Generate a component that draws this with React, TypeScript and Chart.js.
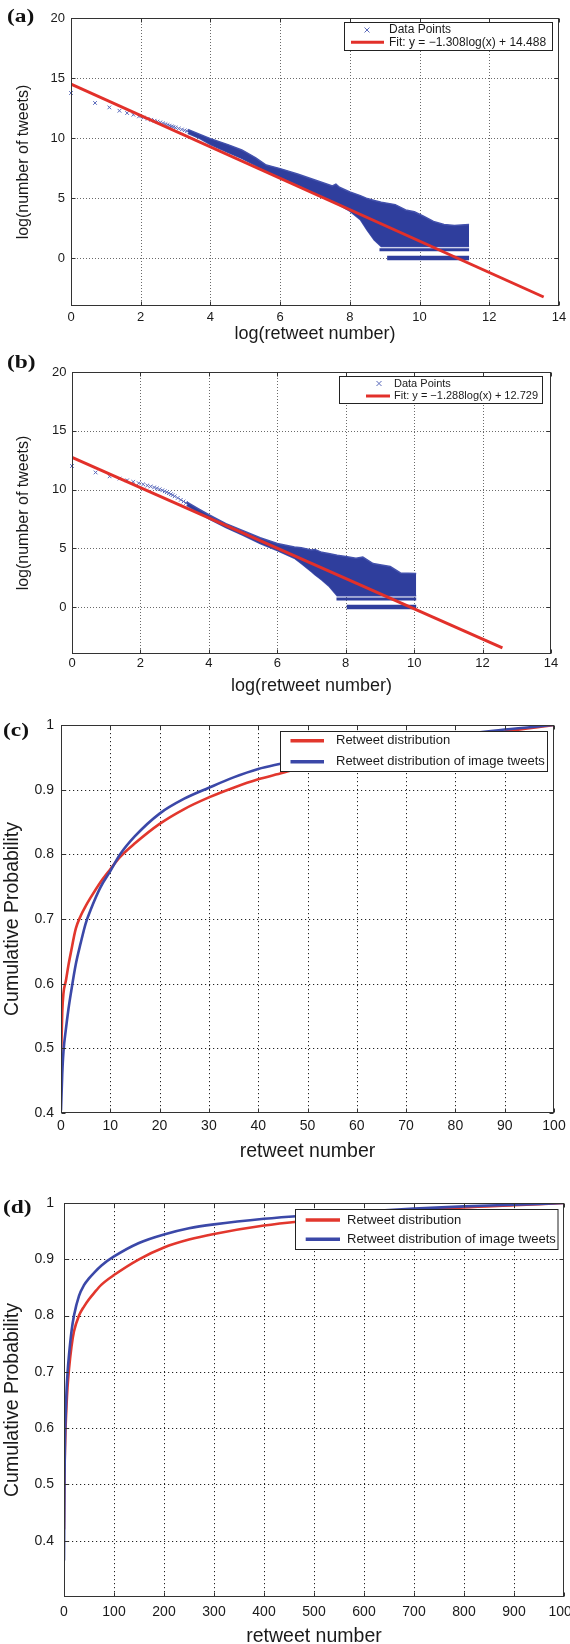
import React, { useEffect, useRef } from 'react';
import { Chart, registerables } from 'chart.js';

Chart.register(...registerables);

const SANS = "'Liberation Sans', Arial, Helvetica, sans-serif";
const SERIF = "'Liberation Serif', 'Times New Roman', Times, serif";

// ---------------- (a) ----------------
const aXTicks = [0, 2, 4, 6, 8, 10, 12, 14];
const aYTicks = [0, 5, 10, 15, 20];
const aSparseX = [0, 0.69, 1.1, 1.39, 1.61, 1.79, 1.95, 2.08, 2.2, 2.3, 2.4, 2.48, 2.56, 2.64, 2.71, 2.77, 2.83, 2.89, 2.94, 3.0, 3.09, 3.18, 3.26, 3.33];
const aSparseY = [13.75, 12.92, 12.55, 12.27, 12.08, 11.94, 11.8, 11.7, 11.6, 11.52, 11.44, 11.37, 11.3, 11.22, 11.15, 11.09, 11.03, 10.97, 10.92, 10.87, 10.79, 10.71, 10.64, 10.57];
const aCloudX = [3.35, 3.7, 4.0, 4.5, 4.9, 5.0, 5.3, 5.6, 6.0, 6.5, 7.0, 7.5, 7.6, 7.7, 8.0, 8.3, 8.5, 8.7, 8.9, 9.3, 9.6, 9.85, 10.1, 10.4, 10.7, 11.0, 11.2, 11.42];
const aUpperY = [10.72, 10.3, 9.95, 9.45, 9.0, 8.85, 8.35, 7.75, 7.45, 7.0, 6.5, 6.0, 6.15, 5.9, 5.5, 5.2, 4.95, 4.8, 4.65, 4.45, 4.0, 3.85, 3.5, 3.05, 2.8, 2.7, 2.75, 2.8];
const aLowerY = [10.4, 9.95, 9.45, 8.8, 8.3, 8.15, 7.7, 7.2, 6.75, 6.1, 5.4, 4.7, 4.55, 4.4, 3.9, 3.2, 2.3, 1.5, 0.95, 0.95, 0.95, 0.95, 0.95, 0.95, 0.95, 0.95, 0.95, 0.95];
const aBand1X = [8.85, 11.42];
const aBand1Y = [0.69, 0.69];
const aBand0X = [9.07, 11.42];
const aBand0Y = [0, 0];
const aFitX = [0, 13.56];
const aFitY = [14.488, -3.25];

// ---------------- (b) ----------------
const bXTicks = [0, 2, 4, 6, 8, 10, 12, 14];
const bYTicks = [0, 5, 10, 15, 20];
const bSparseX = [0, 0.69, 1.1, 1.39, 1.61, 1.79, 1.95, 2.08, 2.2, 2.3, 2.4, 2.48, 2.56, 2.64, 2.71, 2.77, 2.83, 2.89, 2.94, 3.0, 3.09, 3.18, 3.26, 3.33];
const bSparseY = [12.0, 11.45, 11.12, 10.93, 10.78, 10.65, 10.54, 10.44, 10.34, 10.26, 10.18, 10.1, 10.02, 9.93, 9.85, 9.77, 9.69, 9.6, 9.52, 9.42, 9.28, 9.12, 8.98, 8.85];
const bCloudX = [3.35, 3.7, 4.0, 4.5, 5.0, 5.5, 6.0, 6.5, 6.7, 7.0, 7.1, 7.3, 7.5, 7.75, 8.0, 8.3, 8.5, 8.8, 9.0, 9.3, 9.6, 10.06];
const bUpperY = [8.95, 8.35, 7.85, 7.1, 6.5, 5.9, 5.4, 5.1, 5.05, 4.85, 4.9, 4.65, 4.55, 4.4, 4.3, 4.15, 4.25, 3.7, 3.6, 3.45, 2.9, 2.85];
const bLowerY = [8.65, 8.05, 7.5, 6.75, 6.1, 5.4, 4.8, 4.15, 3.7, 3.0, 2.75, 2.3, 1.8, 0.95, 0.95, 0.95, 0.95, 0.95, 0.95, 0.95, 0.95, 0.95];
const bBand1X = [7.73, 10.06];
const bBand1Y = [0.69, 0.69];
const bBand0X = [8.03, 10.06];
const bBand0Y = [0, 0];
const bFitX = [0, 12.58];
const bFitY = [12.729, -3.47];

// ---------------- (c) ----------------
const cXTicks = [0, 10, 20, 30, 40, 50, 60, 70, 80, 90, 100];
const cYTicks = [0.4, 0.5, 0.6, 0.7, 0.8, 0.9, 1];
const cX = [0, 0.25, 0.5, 1, 1.5, 2, 3, 4, 5, 6, 8, 10, 12, 15, 20, 25, 30, 35, 40, 45, 50, 60, 70, 80, 90, 100];
const cRed = [0.48, 0.555, 0.585, 0.605, 0.628, 0.648, 0.685, 0.705, 0.72, 0.733, 0.757, 0.777, 0.796, 0.817, 0.847, 0.870, 0.888, 0.903, 0.916, 0.926, 0.937, 0.953, 0.966, 0.978, 0.990, 1.0];
const cBlue = [0.404, 0.46, 0.495, 0.53, 0.56, 0.585, 0.63, 0.663, 0.693, 0.714, 0.749, 0.774, 0.800, 0.828, 0.863, 0.886, 0.903, 0.919, 0.932, 0.941, 0.950, 0.963, 0.975, 0.984, 0.993, 1.0];

// ---------------- (d) ----------------
const dXTicks = [0, 100, 200, 300, 400, 500, 600, 700, 800, 900, 1000];
const dYTicks = [0.4, 0.5, 0.6, 0.7, 0.8, 0.9, 1];
const dX = [0, 1, 2, 3, 5, 7, 10, 15, 20, 30, 40, 50, 60, 75, 100, 150, 200, 250, 300, 400, 500, 600, 700, 800, 900, 1000];
const dRed = [0.42, 0.52, 0.565, 0.597, 0.64, 0.672, 0.705, 0.745, 0.772, 0.80, 0.816, 0.829, 0.840, 0.855, 0.872, 0.900, 0.921, 0.935, 0.945, 0.960, 0.970, 0.979, 0.986, 0.992, 0.996, 1.0];
const dBlue = [0.365, 0.51, 0.58, 0.615, 0.665, 0.697, 0.73, 0.772, 0.80, 0.835, 0.854, 0.866, 0.876, 0.889, 0.905, 0.929, 0.944, 0.955, 0.962, 0.972, 0.979, 0.985, 0.990, 0.994, 0.997, 1.0];

const BLUE_CLOUD = '#2f3e9d';
const BLUE_EDGE = '#4452ad';
const BLUE_MARK = '#5a6abb';
const RED = '#e2302a';
const BLUE_LINE = '#3b48a8';
const RED_LINE = '#e2372d';
const TEXT = '#1a1a1a';

const CW = 620;

const pts = (xs: number[], ys: number[]) => xs.map((x, i) => ({ x, y: ys[i] }));

const framePlugin: any = {
  id: 'frame',
  beforeDatasetsDraw(chart: any, _a: any, opts: any) {
    const { ctx, chartArea } = chart;
    const { left, right, top, bottom } = chartArea;
    const xs = chart.scales.x;
    const ys = chart.scales.y;
    ctx.save();
    ctx.strokeStyle = opts.gridColor;
    ctx.lineWidth = 1;
    ctx.setLineDash(opts.dash);
    ctx.beginPath();
    for (const t of xs.ticks) {
      const p = Math.round(xs.getPixelForValue(t.value)) + 0.5;
      if (p <= left + 1.5 || p >= right - 1.5) continue;
      ctx.moveTo(p, top);
      ctx.lineTo(p, bottom);
    }
    for (const t of ys.ticks) {
      const p = Math.round(ys.getPixelForValue(t.value)) + 0.5;
      if (p <= top + 1.5 || p >= bottom - 1.5) continue;
      ctx.moveTo(left, p);
      ctx.lineTo(right, p);
    }
    ctx.stroke();
    ctx.restore();
  },
  afterDatasetsDraw(chart: any, _a: any, opts: any) {
    const { ctx, chartArea } = chart;
    const { left, right, top, bottom } = chartArea;
    const xs = chart.scales.x;
    const ys = chart.scales.y;
    ctx.save();
    ctx.setLineDash([]);
    ctx.strokeStyle = opts.boxColor;
    ctx.lineWidth = 1;
    const L = Math.round(left) + 0.5;
    const R = Math.round(right) - 0.5;
    const T = Math.round(top) + 0.5;
    const B = Math.round(bottom) - 0.5;
    ctx.strokeRect(L, T, R - L, B - T);
    const tl = opts.tickLen;
    ctx.beginPath();
    for (const t of xs.ticks) {
      const p = Math.round(xs.getPixelForValue(t.value)) + 0.5;
      ctx.moveTo(p, B);
      ctx.lineTo(p, B - tl);
      ctx.moveTo(p, T);
      ctx.lineTo(p, T + tl);
    }
    for (const t of ys.ticks) {
      const p = Math.round(ys.getPixelForValue(t.value)) + 0.5;
      ctx.moveTo(L, p);
      ctx.lineTo(L + tl, p);
      ctx.moveTo(R, p);
      ctx.lineTo(R - tl, p);
    }
    ctx.stroke();

    const lg = opts.legend;
    if (lg) {
      const [x1, y1, x2, y2] = lg.box;
      ctx.fillStyle = '#ffffff';
      ctx.fillRect(x1, y1, x2 - x1, y2 - y1);
      ctx.strokeStyle = '#222';
      ctx.lineWidth = 1;
      ctx.strokeRect(x1 + 0.5, y1 + 0.5, x2 - x1 - 1, y2 - y1 - 1);
      ctx.font = `${lg.size}px ${SANS}`;
      ctx.textBaseline = 'middle';
      ctx.textAlign = 'left';
      for (const it of lg.items) {
        const ds = chart.data.datasets[it.ds];
        ctx.strokeStyle = ds.borderColor;
        if (it.kind === 'line') {
          ctx.lineWidth = it.w;
          ctx.beginPath();
          ctx.moveTo(it.sx1, it.y);
          ctx.lineTo(it.sx2, it.y);
          ctx.stroke();
        } else {
          const r = it.r;
          ctx.lineWidth = 1;
          ctx.beginPath();
          ctx.moveTo(it.sx - r, it.y - r);
          ctx.lineTo(it.sx + r, it.y + r);
          ctx.moveTo(it.sx - r, it.y + r);
          ctx.lineTo(it.sx + r, it.y - r);
          ctx.stroke();
        }
        ctx.fillStyle = TEXT;
        ctx.fillText(ds.label, it.tx, it.y);
      }
    }
    ctx.restore();
  },
};

function makeConfig(s: any) {
  const fmt = (v: any) => String(Math.round(Number(v) * 1000) / 1000);
  return {
    type: 'scatter',
    data: { datasets: s.datasets },
    options: {
      animation: false,
      responsive: false,
      devicePixelRatio: 1,
      layout: { padding: { left: 0, top: s.area.top, right: CW - s.area.right, bottom: 0 } },
      plugins: {
        legend: { display: false },
        tooltip: { enabled: false },
        frame: {
          gridColor: s.gridColor,
          dash: s.dash,
          boxColor: '#333',
          tickLen: 4,
          legend: s.legend,
        },
      },
      scales: {
        x: {
          type: 'linear',
          min: s.xMin,
          max: s.xMax,
          afterBuildTicks: (sc: any) => {
            sc.ticks = s.xTicks.map((v: number) => ({ value: v }));
          },
          afterFit: (sc: any) => {
            sc.height = s.canvasH - s.area.bottom;
          },
          ticks: {
            autoSkip: false,
            maxRotation: 0,
            minRotation: 0,
            padding: s.xTickPad,
            color: TEXT,
            font: { family: SANS, size: s.tickSize, lineHeight: 1 },
            callback: fmt,
          },
          grid: { display: false, drawTicks: false },
          border: { display: false },
          title: {
            display: true,
            text: s.xTitle,
            color: TEXT,
            font: { family: SANS, size: s.xTitleSize, lineHeight: 1 },
            padding: { top: 0, bottom: s.xTitlePad },
          },
        },
        y: {
          type: 'linear',
          min: s.yMin,
          max: s.yMax,
          afterBuildTicks: (sc: any) => {
            sc.ticks = s.yTicks.map((v: number) => ({ value: v }));
          },
          afterFit: (sc: any) => {
            sc.width = s.area.left;
          },
          ticks: {
            autoSkip: false,
            padding: s.yTickPad,
            color: TEXT,
            font: { family: SANS, size: s.tickSize, lineHeight: 1 },
            callback: fmt,
          },
          grid: { display: false, drawTicks: false },
          border: { display: false },
          title: {
            display: true,
            text: s.yTitle,
            color: TEXT,
            font: { family: SANS, size: s.yTitleSize, lineHeight: 1 },
            padding: { top: s.yTitlePad, bottom: 0 },
          },
        },
      },
    },
    plugins: [framePlugin],
  };
}

function logDatasets(sx: number[], sy: number[], cx: number[], up: number[], lo: number[],
  b1x: number[], b1y: number[], b0x: number[], b0y: number[], fx: number[], fy: number[], fitLabel: string) {
  return [
    { label: 'Data Points', data: pts(sx, sy), showLine: false, pointStyle: 'crossRot', pointRadius: 2.6,
      pointBorderWidth: 1, borderColor: BLUE_MARK, pointBorderColor: BLUE_MARK, backgroundColor: BLUE_MARK,
      clip: false, order: 1 },
    { label: fitLabel, data: pts(fx, fy), showLine: true, borderColor: RED, backgroundColor: RED, borderWidth: 3,
      pointRadius: 0, order: 0 },
    { label: 'cloud upper', data: pts(cx, up), showLine: true, fill: '+1', borderColor: BLUE_EDGE,
      backgroundColor: BLUE_CLOUD, borderWidth: 1.5, pointRadius: 0, order: 4 },
    { label: 'cloud lower', data: pts(cx, lo), showLine: true, fill: false, borderColor: BLUE_EDGE,
      backgroundColor: BLUE_CLOUD, borderWidth: 1.5, pointRadius: 0, order: 4 },
    { label: 'row 2', data: pts(b1x, b1y), showLine: true, borderColor: BLUE_CLOUD, borderWidth: 3,
      pointRadius: 0, order: 3 },
    { label: 'row 1', data: pts(b0x, b0y), showLine: true, borderColor: BLUE_CLOUD, borderWidth: 4.5,
      pointRadius: 0, order: 3 },
  ];
}

function cdfDatasets(xs: number[], red: number[], blue: number[]) {
  return [
    { label: 'Retweet distribution', data: pts(xs, red), showLine: true, borderColor: RED_LINE,
      backgroundColor: RED_LINE, borderWidth: 2.6, pointRadius: 0, cubicInterpolationMode: 'monotone', order: 1 },
    { label: 'Retweet distribution of image tweets', data: pts(xs, blue), showLine: true, borderColor: BLUE_LINE,
      backgroundColor: BLUE_LINE, borderWidth: 2.6, pointRadius: 0, cubicInterpolationMode: 'monotone', order: 0 },
  ];
}

const specA = {
  canvasH: 350,
  area: { left: 71, right: 559, top: 18, bottom: 306 },
  xMin: 0, xMax: 14, xTicks: aXTicks,
  yMin: -4, yMax: 20, yTicks: aYTicks,
  tickSize: 13, xTickPad: 4.5, yTickPad: 6,
  xTitle: 'log(retweet number)', xTitleSize: 18, xTitlePad: 7,
  yTitle: 'log(number of tweets)', yTitleSize: 16, yTitlePad: 16,
  gridColor: '#6a6a6a', dash: [1, 2],
  datasets: logDatasets(aSparseX, aSparseY, aCloudX, aUpperY, aLowerY, aBand1X, aBand1Y, aBand0X, aBand0Y,
    aFitX, aFitY, 'Fit: y = \u22121.308log(x) + 14.488'),
  legend: {
    box: [344, 22, 553, 51], size: 12,
    items: [
      { ds: 0, kind: 'cross', y: 30, sx: 367, r: 2.5, tx: 389 },
      { ds: 1, kind: 'line', y: 42.3, sx1: 351, sx2: 384, w: 3, tx: 389 },
    ],
  },
};

const specB = {
  canvasH: 350,
  area: { left: 72, right: 551, top: 22, bottom: 304 },
  xMin: 0, xMax: 14, xTicks: bXTicks,
  yMin: -4, yMax: 20, yTicks: bYTicks,
  tickSize: 13, xTickPad: 2.8, yTickPad: 5.5,
  xTitle: 'log(retweet number)', xTitleSize: 18, xTitlePad: 5,
  yTitle: 'log(number of tweets)', yTitleSize: 16, yTitlePad: 16,
  gridColor: '#6a6a6a', dash: [1, 2],
  datasets: logDatasets(bSparseX, bSparseY, bCloudX, bUpperY, bLowerY, bBand1X, bBand1Y, bBand0X, bBand0Y,
    bFitX, bFitY, 'Fit: y = \u22121.288log(x) + 12.729'),
  legend: {
    box: [339, 26, 543, 54], size: 11,
    items: [
      { ds: 0, kind: 'cross', y: 33.5, sx: 379, r: 2.5, tx: 394 },
      { ds: 1, kind: 'line', y: 46, sx1: 366, sx2: 390, w: 3, tx: 394 },
    ],
  },
};

const specC = {
  canvasH: 470,
  area: { left: 61, right: 554, top: 25, bottom: 413 },
  xMin: 0, xMax: 100, xTicks: cXTicks,
  yMin: 0.4, yMax: 1, yTicks: cYTicks,
  tickSize: 14, xTickPad: 5.7, yTickPad: 7,
  xTitle: 'retweet number', xTitleSize: 19.5, xTitlePad: 8.5,
  yTitle: 'Cumulative Probability', yTitleSize: 19.5, yTitlePad: 2.75,
  gridColor: '#222', dash: [1.2, 2.8],
  datasets: cdfDatasets(cX, cRed, cBlue),
  legend: {
    box: [280, 31, 548, 72], size: 13,
    items: [
      { ds: 0, kind: 'line', y: 40.7, sx1: 290.5, sx2: 324, w: 3.5, tx: 336 },
      { ds: 1, kind: 'line', y: 61.7, sx1: 290.5, sx2: 324, w: 3.5, tx: 336 },
    ],
  },
};

const specD = {
  canvasH: 474,
  area: { left: 64, right: 564, top: 33, bottom: 427 },
  xMin: 0, xMax: 1000, xTicks: dXTicks,
  yMin: 0.3, yMax: 1, yTicks: dYTicks,
  tickSize: 14, xTickPad: 7.7, yTickPad: 10,
  xTitle: 'retweet number', xTitleSize: 19.5, xTitlePad: -2.4,
  yTitle: 'Cumulative Probability', yTitleSize: 19.5, yTitlePad: 2.75,
  gridColor: '#222', dash: [1.2, 2.8],
  datasets: cdfDatasets(dX, dRed, dBlue),
  legend: {
    box: [295, 39, 558.5, 80], size: 13,
    items: [
      { ds: 0, kind: 'line', y: 50, sx1: 305.7, sx2: 340, w: 3.5, tx: 347 },
      { ds: 1, kind: 'line', y: 69.3, sx1: 305.7, sx2: 340, w: 3.5, tx: 347 },
    ],
  },
};

function Panel({ top, spec }: { top: number; spec: any }) {
  const ref = useRef<HTMLCanvasElement>(null);
  useEffect(() => {
    const chart = new Chart(ref.current as HTMLCanvasElement, makeConfig(spec) as any);
    return () => chart.destroy();
  }, [spec]);
  return (
    <canvas
      ref={ref}
      width={CW}
      height={spec.canvasH}
      style={{ position: 'absolute', left: 0, top, width: CW, height: spec.canvasH, display: 'block' }}
    />
  );
}

function PanelLabel({ text, left, top }: { text: string; left: number; top: number }) {
  return (
    <div
      style={{
        position: 'absolute', left, top, fontFamily: SERIF, fontWeight: 'bold', fontSize: 18,
        lineHeight: '18px', color: '#111', transform: 'scaleX(1.3)', transformOrigin: 'left center',
        whiteSpace: 'nowrap', zIndex: 2,
      }}
    >
      {text}
    </div>
  );
}

export default function App() {
  return (
    <div style={{ position: 'absolute', left: 0, top: 0, width: 570, height: 1644, overflow: 'hidden', background: '#fff' }}>
      <Panel top={0} spec={specA} />
      <Panel top={350} spec={specB} />
      <Panel top={700} spec={specC} />
      <Panel top={1170} spec={specD} />
      <PanelLabel text="(a)" left={7} top={7} />
      <PanelLabel text="(b)" left={7} top={353} />
      <PanelLabel text="(c)" left={3} top={721} />
      <PanelLabel text="(d)" left={3} top={1198} />
    </div>
  );
}
